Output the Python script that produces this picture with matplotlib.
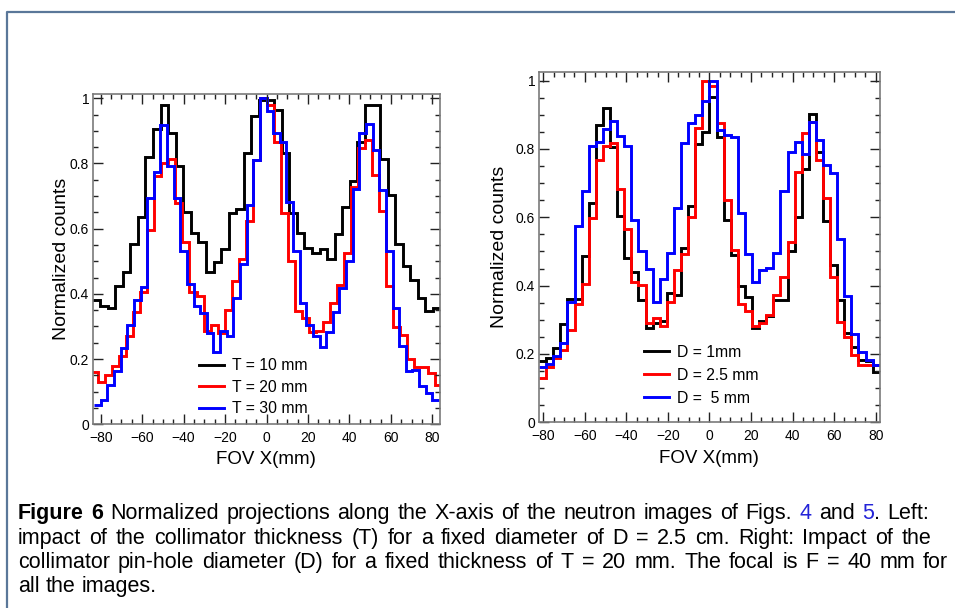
"""
Normalized X projections of the neutron images (Figure 6 recreation).
Left: collimator thickness T, right: pin-hole diameter D.
"""
import re

import matplotlib

matplotlib.use("Agg")
import matplotlib.pyplot as plt
import numpy as np
from matplotlib.lines import Line2D
from matplotlib.ticker import FuncFormatter, MultipleLocator

OUT = "out.png"

# histogram binning of each projection: (low edge, high edge, n bins)
BINS_T10 = (-84.0, 84.0, 46)
BINS_T20 = (-84.5, 84.5, 50)
BINS_T30 = (-83.2, 83.2, 52)
BINS_D = (-82.0, 82.0, 48)

# left panel, thickness scan (D = 2.5)
COUNTS_T10 = [
    0.38, 0.363, 0.356, 0.424, 0.468, 0.553, 0.636, 0.821, 0.905, 0.979, 0.893, 0.792,
    0.65, 0.586, 0.558, 0.468, 0.499, 0.537, 0.649, 0.66, 0.833, 0.944, 0.995,
    0.995, 0.964, 0.833, 0.649, 0.588, 0.54, 0.525, 0.537, 0.506, 0.584, 0.666, 0.747,
    0.867, 0.979, 0.979, 0.813, 0.704, 0.553, 0.486, 0.441, 0.387, 0.346, 0.356,
]
COUNTS_T20 = [
    0.159, 0.13, 0.152, 0.18, 0.21, 0.27, 0.343, 0.405, 0.596, 0.762, 0.8, 0.813, 0.678,
    0.56, 0.407, 0.394, 0.287, 0.305, 0.281, 0.35, 0.44, 0.506, 0.622, 0.811, 1.0,
    0.979, 0.867, 0.649, 0.502, 0.346, 0.325, 0.284, 0.287, 0.315, 0.371, 0.427, 0.524,
    0.729, 0.847, 0.872, 0.765, 0.653, 0.424, 0.298, 0.274, 0.2, 0.175, 0.175, 0.157, 0.121,
]
COUNTS_T30 = [
    0.06, 0.075, 0.121, 0.162, 0.233, 0.305, 0.38, 0.42, 0.693, 0.775, 0.918, 0.792, 0.693,
    0.53, 0.43, 0.363, 0.342, 0.28, 0.223, 0.287, 0.27, 0.387, 0.492, 0.673, 0.811, 1.0,
    0.96, 0.893, 0.867, 0.683, 0.53, 0.371, 0.305, 0.27, 0.237, 0.282, 0.343, 0.417, 0.502,
    0.721, 0.893, 0.922, 0.84, 0.719, 0.53, 0.356, 0.239, 0.162, 0.167, 0.116, 0.095, 0.075,
]

# right panel, diameter scan (T = 20 mm)
COUNTS_D1 = [
    0.179, 0.187, 0.218, 0.287, 0.361, 0.361, 0.488, 0.641, 0.87, 0.919, 0.807, 0.605,
    0.482, 0.441, 0.358, 0.275, 0.29, 0.296, 0.377, 0.373, 0.509, 0.634, 0.815, 0.85,
    0.953, 0.836, 0.592, 0.49, 0.4, 0.368, 0.277, 0.296, 0.312, 0.358, 0.358, 0.501,
    0.602, 0.741, 0.902, 0.79, 0.589, 0.46, 0.358, 0.26, 0.221, 0.182, 0.18, 0.148,
]
COUNTS_D25 = [
    0.13, 0.163, 0.187, 0.211, 0.27, 0.345, 0.404, 0.599, 0.768, 0.81, 0.817, 0.683,
    0.566, 0.41, 0.402, 0.29, 0.306, 0.283, 0.353, 0.446, 0.492, 0.602, 0.861, 1.0,
    0.983, 0.875, 0.651, 0.504, 0.345, 0.326, 0.283, 0.29, 0.314, 0.373, 0.426, 0.529,
    0.732, 0.846, 0.878, 0.768, 0.656, 0.426, 0.294, 0.25, 0.197, 0.168, 0.168, 0.168,
]
COUNTS_D5 = [
    0.163, 0.17, 0.195, 0.231, 0.351, 0.573, 0.677, 0.81, 0.82, 0.859, 0.882, 0.839,
    0.81, 0.592, 0.501, 0.449, 0.351, 0.419, 0.495, 0.628, 0.817, 0.875, 0.898, 0.939,
    1.0, 0.856, 0.841, 0.836, 0.612, 0.492, 0.412, 0.446, 0.451, 0.495, 0.677, 0.792,
    0.82, 0.784, 0.878, 0.826, 0.753, 0.729, 0.537, 0.371, 0.257, 0.205, 0.182, 0.168,
]

LABELS_T = ["T = 10 mm", "T = 20 mm", "T = 30 mm"]
LABELS_D = ["D = 1mm", "D = 2.5 mm", "D =  5 mm"]
COLORS = ["#000000", "#ff0000", "#0000ff"]

CAPTION = [
    "*Figure* *6* Normalized projections along the X-axis of the neutron images of Figs. [4] and [5]. Left:",
    "impact of the collimator thickness (T) for a fixed diameter of D = 2.5 cm. Right: Impact of the",
    "collimator pin-hole diameter (D) for a fixed thickness of T = 20 mm. The focal is F = 40 mm for",
    "all the images.",
]
CAP_BASELINES = [519, 544, 568, 592]
CAP_RIGHT = [929, 931, 948, None]
CAP_LEFT = 18
CAP_FS = 15.5
LINK = "#2323d8"

W_PX, H_PX = 955, 608
FONT = "Liberation Sans"


def edges(spec):
    lo, hi, n = spec
    return np.linspace(lo, hi, n + 1)


def style_axes(ax, xlim, ylim):
    ax.set_xlim(*xlim)
    ax.set_ylim(*ylim)
    ax.xaxis.set_major_locator(MultipleLocator(20))
    ax.xaxis.set_minor_locator(MultipleLocator(5))
    ax.yaxis.set_major_locator(MultipleLocator(0.2))
    ax.yaxis.set_minor_locator(MultipleLocator(0.05))
    ax.xaxis.set_major_formatter(FuncFormatter(lambda v, _: f"{v:g}".replace("-", "\u2212")))
    ax.yaxis.set_major_formatter(FuncFormatter(lambda v, _: f"{v:g}"))
    ax.tick_params(which="both", direction="in", top=True, right=True, color="#222222", width=1.0)
    ax.tick_params(which="major", length=7)
    ax.tick_params(which="minor", length=3.5)
    ax.tick_params(axis="x", which="major", labelsize=10, pad=5)
    ax.tick_params(axis="y", which="major", labelsize=10, pad=3)
    for s in ax.spines.values():
        s.set_color("#7a7a7a")
        s.set_linewidth(1.2)
    ax.set_xlabel("FOV X(mm)", fontsize=13.5)
    ax.set_ylabel("Normalized counts", fontsize=14)
    ax.xaxis.label.set_va("center")
    ax.yaxis.label.set_va("center")


def panel(fig, rect, series, labels, xlim, ylim, legend_at, spacing, ylabel_x, xlabel_y):
    ax = fig.add_axes(rect)
    for (spec, counts), color, lab in zip(series, COLORS, labels):
        ax.stairs(counts, edges(spec), color=color, lw=2.1, baseline=None, label=lab)
    style_axes(ax, xlim, ylim)
    ax.yaxis.set_label_coords(ylabel_x, 0.5)
    ax.xaxis.set_label_coords(0.498, xlabel_y)
    handles = [Line2D([], [], color=c, lw=2.1) for c in COLORS]
    ax.legend(handles, labels, loc="upper left", bbox_to_anchor=legend_at, frameon=False,
              fontsize=11.3, handlelength=1.6, handletextpad=0.5, labelspacing=spacing,
              borderpad=0, borderaxespad=0)
    return ax


def layout_caption(fig, rend, size):
    """Place the caption words, justified like the LaTeX paragraph; return the smallest gap."""
    probe_a = fig.text(0, 0, "x x", fontsize=size)
    probe_b = fig.text(0, 0, "xx", fontsize=size)
    space = probe_a.get_window_extent(rend).width - probe_b.get_window_extent(rend).width
    probe_a.remove()
    probe_b.remove()

    made, min_gap = [], 1e9
    for line, base, right in zip(CAPTION, CAP_BASELINES, CAP_RIGHT):
        words = []
        for word in line.split(" "):
            runs = []
            for part in re.findall(r"\*[^*]+\*|\[[^\]]+\]|[^*\[]+", word):
                weight, color = "normal", "black"
                if part.startswith("*"):
                    part, weight = part[1:-1], "bold"
                elif part.startswith("["):
                    part, color = part[1:-1], LINK
                t = fig.text(0, 1 - base / H_PX, part, fontsize=size, fontweight=weight,
                             color=color, va="baseline", ha="left")
                made.append(t)
                runs.append((t, t.get_window_extent(rend).width))
            words.append(runs)
        total = sum(w for runs in words for _, w in runs)
        gap = space if right is None else (right - CAP_LEFT - total) / (len(words) - 1)
        min_gap = min(min_gap, gap / space)
        x = CAP_LEFT
        for runs in words:
            for t, w in runs:
                t.set_x(x / W_PX)
                x += w
            x += gap
    return made, min_gap


def draw_caption(fig):
    fig.canvas.draw()
    rend = fig.canvas.get_renderer()
    size = CAP_FS
    while True:
        made, min_gap = layout_caption(fig, rend, size)
        if min_gap >= 0.8 or size < 9:
            break
        for t in made:
            t.remove()
        size -= 0.5


def main():
    plt.rcParams["font.family"] = [FONT, "DejaVu Sans"]
    fig = plt.figure(figsize=(W_PX / 100, H_PX / 100), dpi=100)
    fig.patch.set_facecolor("white")

    # page frame (top and left edges visible in the crop)
    fig.add_artist(Line2D([6.5 / W_PX, 6.5 / W_PX, 1.0], [0.0, 1 - 11.5 / H_PX, 1 - 11.5 / H_PX],
                          transform=fig.transFigure, color="#5a7799", lw=1.6))

    panel(
        fig, [93.3 / W_PX, 1 - 424.3 / H_PX, 346.7 / W_PX, 330 / H_PX],
        [(BINS_T10, COUNTS_T10), (BINS_T20, COUNTS_T20), (BINS_T30, COUNTS_T30)],
        LABELS_T, (-83.6, 83.7), (0, 1.012), (0.305, 0.2), 0.42, -0.092, -0.108,
    )
    panel(
        fig, [539.3 / W_PX, 1 - 422.3 / H_PX, 340.7 / W_PX, 350.6 / H_PX],
        [(BINS_D, COUNTS_D1), (BINS_D, COUNTS_D25), (BINS_D, COUNTS_D5)],
        LABELS_D, (-81.9, 82.1), (0, 1.026), (0.307, 0.221), 0.5, -0.116, -0.102,
    )

    draw_caption(fig)
    fig.savefig(OUT, dpi=100, facecolor=fig.get_facecolor())
    plt.close(fig)


if __name__ == "__main__":
    main()
